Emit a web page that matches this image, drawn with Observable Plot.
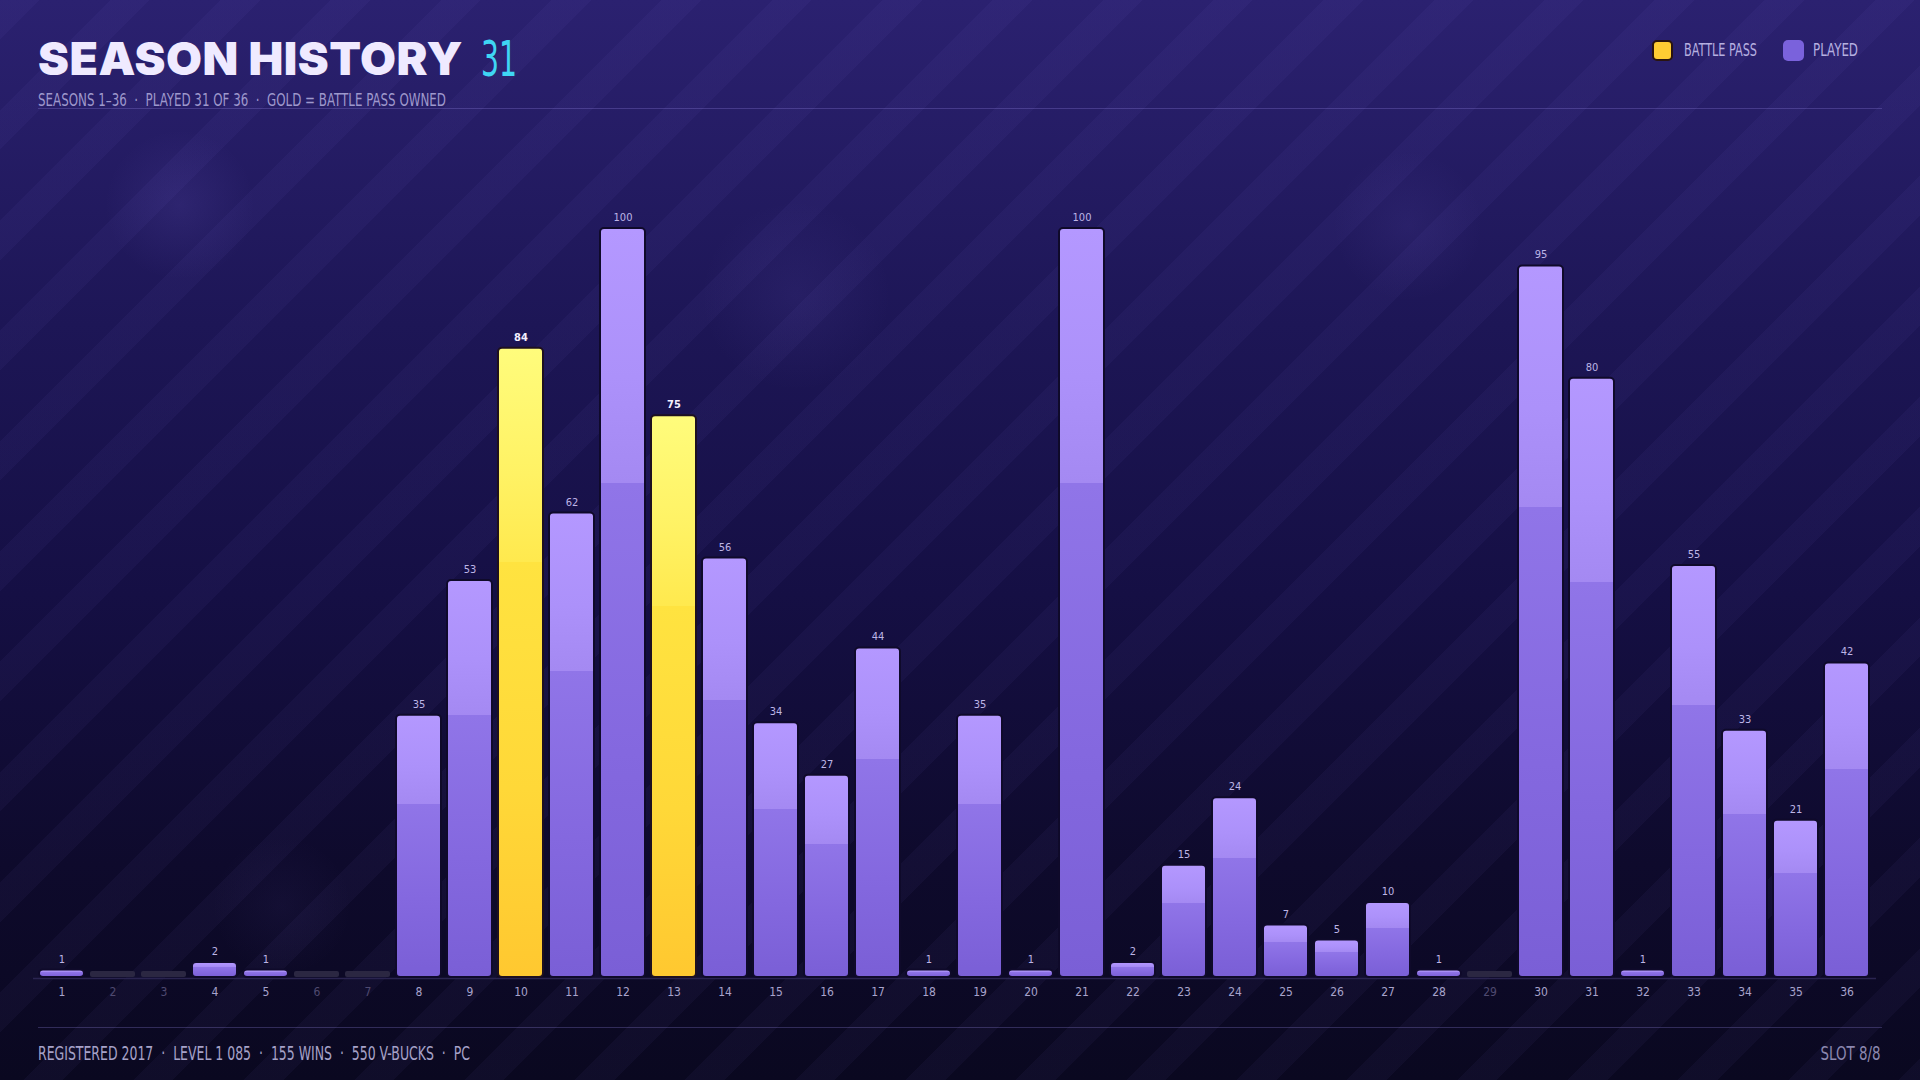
<!DOCTYPE html>
<html>
<head>
<meta charset="utf-8">
<script src="https://cdn.jsdelivr.net/npm/d3@7"></script>
<script src="https://cdn.jsdelivr.net/npm/@observablehq/plot@0.6"></script>
<style>
  html, body { margin: 0; padding: 0; }
  body {
    width: 1920px; height: 1080px; overflow: hidden; position: relative;
    font-family: "Liberation Sans Narrow", "DejaVu Sans Condensed", "Roboto", sans-serif;
    background:
      radial-gradient(circle at 180px 205px, rgba(140,120,240,0.11) 0, rgba(140,120,240,0) 75px),
      radial-gradient(circle at 796px 296px, rgba(140,120,240,0.08) 0, rgba(140,120,240,0) 95px),
      radial-gradient(circle at 1408px 226px, rgba(140,120,240,0.08) 0, rgba(140,120,240,0) 75px),
      radial-gradient(circle at 282px 906px, rgba(140,120,240,0.05) 0, rgba(140,120,240,0) 70px),
      repeating-linear-gradient(135deg, rgba(150,130,255,0.045) 0 28px, rgba(0,0,0,0) 28px 78px),
      linear-gradient(180deg, #2b2170 0%, #1d1656 30%, #150f44 55%, #0e0a2c 80%, #0a0820 100%);
  }
  .t { position: absolute; white-space: nowrap; line-height: 1; }
  #titleMain {
    left: 38px; top: 35px;
    font-family: "Inter", "Lato", sans-serif; font-weight: 900; font-size: 46px;
    color: #efeaff; letter-spacing: 0.5px;
  }
  #titleNum {
    left: 481px; top: 34px;
    font-family: "DejaVu Sans Condensed", "DejaVu Sans", sans-serif; font-weight: 400; font-size: 50px; color: #3fd6f4;
  }
  #subtitle { left: 38px; top: 91px; font-size: 18px; color: #9e98cc; }
  .hline { position: absolute; left: 38px; width: 1844px; height: 1px; background: rgba(150,135,230,0.28); }
  .sw { position: absolute; width: 21px; height: 21px; border-radius: 5px; box-sizing: border-box; }
  .lg { top: 41px; font-size: 18px; color: #b6b0e0; }
  #chart { position: absolute; left: 0; top: 130px; }
  #footer { left: 38px; top: 1043px; font-size: 20px; color: #a6a2c8; }
  #slot { right: 39px; top: 1043px; font-size: 20px; color: #8c88b0; }
</style>
</head>
<body>
<div class="t" id="titleMain">SEASON HISTORY</div>
<div class="t" id="titleNum">31</div>
<div class="t" id="subtitle">SEASONS 1–36 &nbsp;·&nbsp; PLAYED 31 OF 36 &nbsp;·&nbsp; GOLD = BATTLE PASS OWNED</div>
<div class="hline" style="top:108px"></div>
<div class="sw" style="left:1652px;top:40px;background:#ffcc33;border:2px solid #2a1410"></div>
<div class="t lg" id="lgBP" style="left:1684px">BATTLE PASS</div>
<div class="sw" style="left:1783px;top:40px;background:#7a62dc"></div>
<div class="t lg" id="lgPL" style="left:1813px">PLAYED</div>
<div id="chart"></div>
<div class="hline" style="top:1027px"></div>
<div class="t" id="footer">REGISTERED 2017 &nbsp;·&nbsp; LEVEL 1 085 &nbsp;·&nbsp; 155 WINS &nbsp;·&nbsp; 550 V-BUCKS &nbsp;·&nbsp; PC</div>
<div class="t" id="slot">SLOT 8/8</div>
<script>
const seasons = [1,2,3,4,5,6,7,8,9,10,11,12,13,14,15,16,17,18,19,20,21,22,23,24,25,26,27,28,29,30,31,32,33,34,35,36];
const levels  = [1,0,0,2,1,0,0,35,53,84,62,100,75,56,34,27,44,1,35,1,100,2,15,24,7,5,10,1,0,95,80,1,55,33,21,42];
const battlePassSeasons = [10, 13];

const rows = seasons.map((s, i) => ({
  season: s,
  level: levels[i],
  played: levels[i] > 0,
  bp: battlePassSeasons.includes(s)
}));
const playedRows = rows.filter(d => d.played && !d.bp);
const bpRows = rows.filter(d => d.bp);
const unplayedRows = rows.filter(d => !d.played);

const chart = Plot.plot({
  width: 1920,
  height: 890,
  marginLeft: 33,
  marginRight: 44,
  marginTop: 98,
  marginBottom: 43,
  style: { background: "transparent", overflow: "visible" },
  x: { type: "band", domain: seasons, padding: 0.11, axis: null },
  y: { domain: [0, 100], axis: null },
  marks: [
    Plot.ruleY([0], { stroke: "#2a2450", strokeWidth: 1.5, dy: 1 }),
    Plot.barY(unplayedRows, { x: "season", y: () => 0.8, fill: "#2b2742", rx: 2 }),
    Plot.barY(playedRows, { x: "season", y: "level", fill: "url(#gPlayed)", stroke: "#0f0a2a", strokeWidth: 2, rx: 4 }),
    Plot.barY(bpRows, { x: "season", y: "level", fill: "url(#gGold)", stroke: "#1e1020", strokeWidth: 2, rx: 4 }),
    Plot.text(playedRows, { x: "season", y: "level", text: d => String(d.level), dy: -11, fill: "#bdb5e6", fontSize: 11 }),
    Plot.text(bpRows, { x: "season", y: "level", text: d => String(d.level), dy: -11, fill: "#f4f0ff", fontSize: 11, fontWeight: "bold" }),
    Plot.text(rows.filter(d => d.played), { x: "season", y: 0, text: d => String(d.season), dy: 15, fill: "#a8a3cc", fontSize: 12 }),
    Plot.text(unplayedRows, { x: "season", y: 0, text: d => String(d.season), dy: 15, fill: "#4f4a70", fontSize: 12 })
  ]
});

// gradient defs
const ns = "http://www.w3.org/2000/svg";
const defs = document.createElementNS(ns, "defs");
function grad(id, stops) {
  const g = document.createElementNS(ns, "linearGradient");
  g.setAttribute("id", id);
  g.setAttribute("x1", "0"); g.setAttribute("y1", "0");
  g.setAttribute("x2", "0"); g.setAttribute("y2", "1");
  for (const [o, c] of stops) {
    const s = document.createElementNS(ns, "stop");
    s.setAttribute("offset", o);
    s.setAttribute("stop-color", c);
    g.appendChild(s);
  }
  defs.appendChild(g);
}
grad("gPlayed", [[0, "#b498ff"], [0.2, "#ac91fa"], [0.34, "#a489f2"], [0.34, "#9075e8"], [0.7, "#8468df"], [1, "#7a5fd6"]]);
grad("gGold", [[0, "#fffc7c"], [0.2, "#fff264"], [0.34, "#ffe94e"], [0.34, "#ffe340"], [0.7, "#ffd838"], [1, "#ffc830"]]);
chart.insertBefore(defs, chart.firstChild);
chart.querySelectorAll("text").forEach(t => t.setAttribute("font-family", '"Liberation Sans Narrow", "DejaVu Sans Condensed", sans-serif'));
document.getElementById("chart").appendChild(chart);

// fit header/footer text widths to the reference measures
function fit(id, target, origin) {
  const el = document.getElementById(id);
  const w = el.getBoundingClientRect().width;
  if (w > 0) {
    el.style.transformOrigin = (origin || "left") + " center";
    el.style.transform = `scaleX(${target / w})`;
  }
}
fit("titleMain", 425);
fit("titleNum", 36);
fit("subtitle", 408);
fit("lgBP", 73);
fit("lgPL", 45);
fit("footer", 432);
fit("slot", 60, "right");
</script>
</body>
</html>
